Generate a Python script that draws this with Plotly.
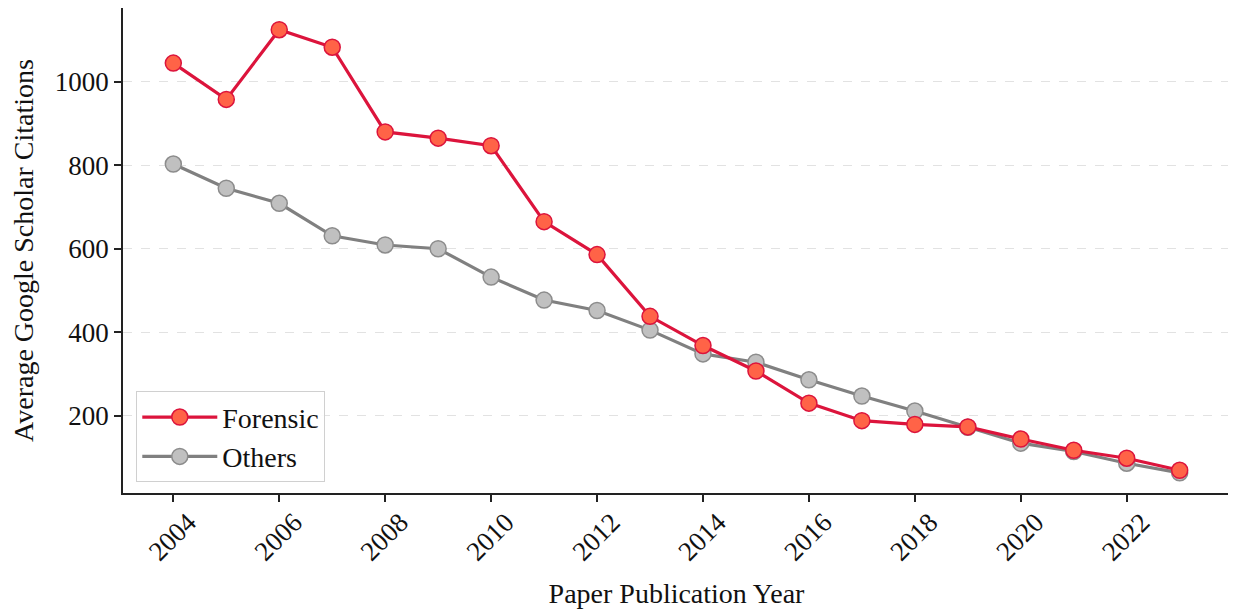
import plotly.graph_objects as go

years = list(range(2004, 2024))
forensic = [1045, 958, 1125, 1083, 880, 865, 847, 665, 586, 438, 368, 307, 230, 188, 179, 173, 144, 117, 98, 69]
others = [803, 745, 709, 631, 609, 600, 532, 477, 452, 405, 348, 328, 286, 247, 211, 172, 134, 114, 86, 63]
y_ticks = [200, 400, 600, 800, 1000]
x_ticks = list(range(2004, 2024, 2))

FONT = "Liberation Serif"

fig = go.Figure()
fig.add_trace(go.Scatter(
    x=years, y=others, name="Others", mode="lines+markers",
    line=dict(color="#808080", width=3.2),
    marker=dict(size=16, color="#C0C0C0", line=dict(color="#8c8c8c", width=1.5)),
))
fig.add_trace(go.Scatter(
    x=years, y=forensic, name="Forensic", mode="lines+markers",
    line=dict(color="#DC143C", width=3.2),
    marker=dict(size=16, color="#FF6347", line=dict(color="#DC143C", width=1.5)),
))

# the page adds an 8px body margin, so the figure is sized to fit the window
fig.update_layout(
    width=1228, height=601,
    margin=dict(l=115, r=6, t=0, b=116, autoexpand=False),
    paper_bgcolor="white", plot_bgcolor="white",
    font=dict(family=FONT, size=28, color="#111"),
    showlegend=True,
    legend=dict(
        x=0.012, y=0.022, xanchor="left", yanchor="bottom",
        bgcolor="rgba(255,255,255,0.9)", bordercolor="#d0d0d0", borderwidth=1,
        font=dict(family=FONT, size=28, color="#111"),
        traceorder="reversed", itemwidth=75, tracegroupgap=4,
    ),
    xaxis=dict(
        range=[2003.05, 2023.95],
        tickmode="array", tickvals=x_ticks, ticktext=[str(v) for v in x_ticks],
        tickangle=-45, ticklabelshift=15, ticklabelstandoff=-6,
        ticks="outside", ticklen=7, tickwidth=1.5, tickcolor="#222",
        showline=True, linecolor="#222", linewidth=1.5,
        showgrid=False, zeroline=False, automargin=False,
        title=dict(text="Paper Publication Year", font=dict(family=FONT, size=28), standoff=18),
        tickfont=dict(family=FONT, size=27),
    ),
    yaxis=dict(
        range=[14.6, 1177],
        tickmode="array", tickvals=y_ticks,
        ticks="outside", ticklen=7, tickwidth=1.5, tickcolor="#222",
        showline=True, linecolor="#222", linewidth=1.5,
        showgrid=True, gridcolor="#e2e2e2", griddash="dash", gridwidth=1,
        zeroline=False, automargin=False,
        title=dict(text="Average Google Scholar Citations", font=dict(family=FONT, size=28), standoff=14),
        tickfont=dict(family=FONT, size=27),
    ),
)

fig.write_html("out.html")
